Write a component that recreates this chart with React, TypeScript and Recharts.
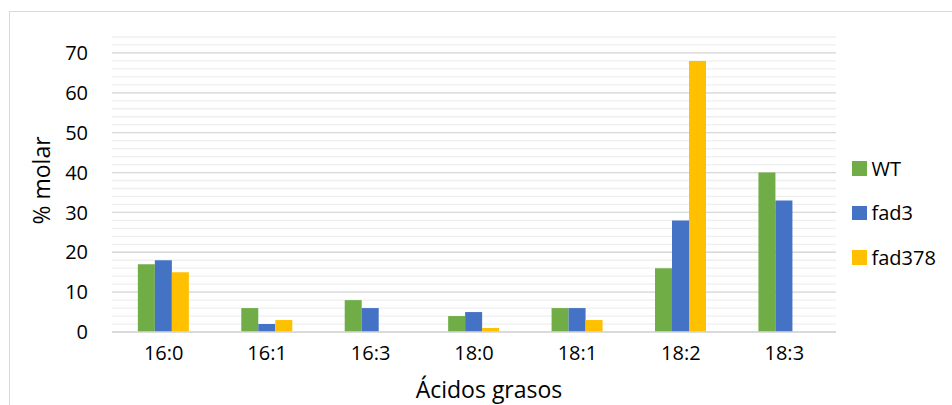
import React from 'react';
import { BarChart, Bar, XAxis, YAxis, CartesianGrid, Legend } from 'recharts';

const categories = ['16:0', '16:1', '16:3', '18:0', '18:1', '18:2', '18:3'];
const wtValues = [17, 6, 8, 4, 6, 16, 40];
const fad3Values = [18, 2, 6, 5, 6, 28, 33];
const fad378Values = [15, 3, 0, 1, 3, 68, 0];
const yTicks = [0, 10, 20, 30, 40, 50, 60, 70];
const minorTicks = [0, 2, 4, 6, 8, 10, 12, 14, 16, 18, 20, 22, 24, 26, 28, 30, 32, 34, 36, 38, 40, 42, 44, 46, 48, 50, 52, 54, 56, 58, 60, 62, 64, 66, 68, 70, 72, 74];
const seriesNames = ['WT', 'fad3', 'fad378'];
const seriesColors = ['#70AD47', '#4472C4', '#FFC000'];

const data = categories.map((c, i) => ({
  name: c,
  WT: wtValues[i],
  fad3: fad3Values[i],
  fad378: fad378Values[i],
}));

const FONT = '"Open Sans", "DejaVu Sans", sans-serif';

const LegendContent = () => (
  <div style={{ fontFamily: FONT, fontSize: 20, color: '#000' }}>
    {seriesNames.map((n, i) => (
      <div key={n} style={{ display: 'flex', alignItems: 'center', height: 44.5 }}>
        <span style={{ display: 'inline-block', width: 14.5, height: 14.5, background: seriesColors[i], marginRight: 5 }} />
        <span>{n}</span>
      </div>
    ))}
  </div>
);

export default function App() {
  return (
    <div style={{ position: 'absolute', left: 0, top: 0, width: 952, height: 405, overflow: 'hidden', background: '#fff' }}>
      <div style={{ position: 'absolute', left: 9, top: 11, width: 980, height: 430, border: '1.5px solid #d9d9d9', boxSizing: 'border-box' }} />
      <div style={{ position: 'absolute', left: 0, top: 0 }}>
        <BarChart
          width={952}
          height={405}
          data={data}
          margin={{ top: 37, right: 16, left: 20, bottom: 0 }}
          barCategoryGap="25%"
          barGap={0}
        >
          <CartesianGrid vertical={false} horizontalValues={minorTicks} stroke="#efefef" strokeWidth={1.3} />
          <CartesianGrid vertical={false} horizontalValues={yTicks} stroke="#d9d9d9" strokeWidth={1.3} />
          <XAxis
            dataKey="name"
            height={73}
            tickLine={false}
            tickSize={0}
            tickMargin={14}
            axisLine={{ stroke: '#d9d9d9', strokeWidth: 1.3 }}
            tick={{ fill: '#000', fontSize: 20, fontFamily: FONT }}
            label={{ value: 'Ácidos grasos', position: 'insideBottom', offset: 7, dx: 15, style: { fill: '#000', fontSize: 23, fontFamily: FONT } }}
          />
          <YAxis
            width={92}
            domain={[0, 74]}
            ticks={yTicks}
            interval={0}
            axisLine={false}
            tickLine={false}
            tickSize={0}
            tickMargin={24}
            tick={{ fill: '#000', fontSize: 20, fontFamily: FONT }}
            label={{ value: '% molar', angle: -90, position: 'insideLeft', offset: 22, dy: -4, style: { textAnchor: 'middle', fill: '#000', fontSize: 23, fontFamily: FONT } }}
          />
          <Legend
            layout="vertical"
            align="right"
            verticalAlign="top"
            content={<LegendContent />}
            wrapperStyle={{ left: 852, top: 146, width: 100 }}
          />
          {seriesNames.map((n, i) => (
            <Bar key={n} dataKey={n} fill={seriesColors[i]} isAnimationActive={false} />
          ))}
        </BarChart>
      </div>
    </div>
  );
}
